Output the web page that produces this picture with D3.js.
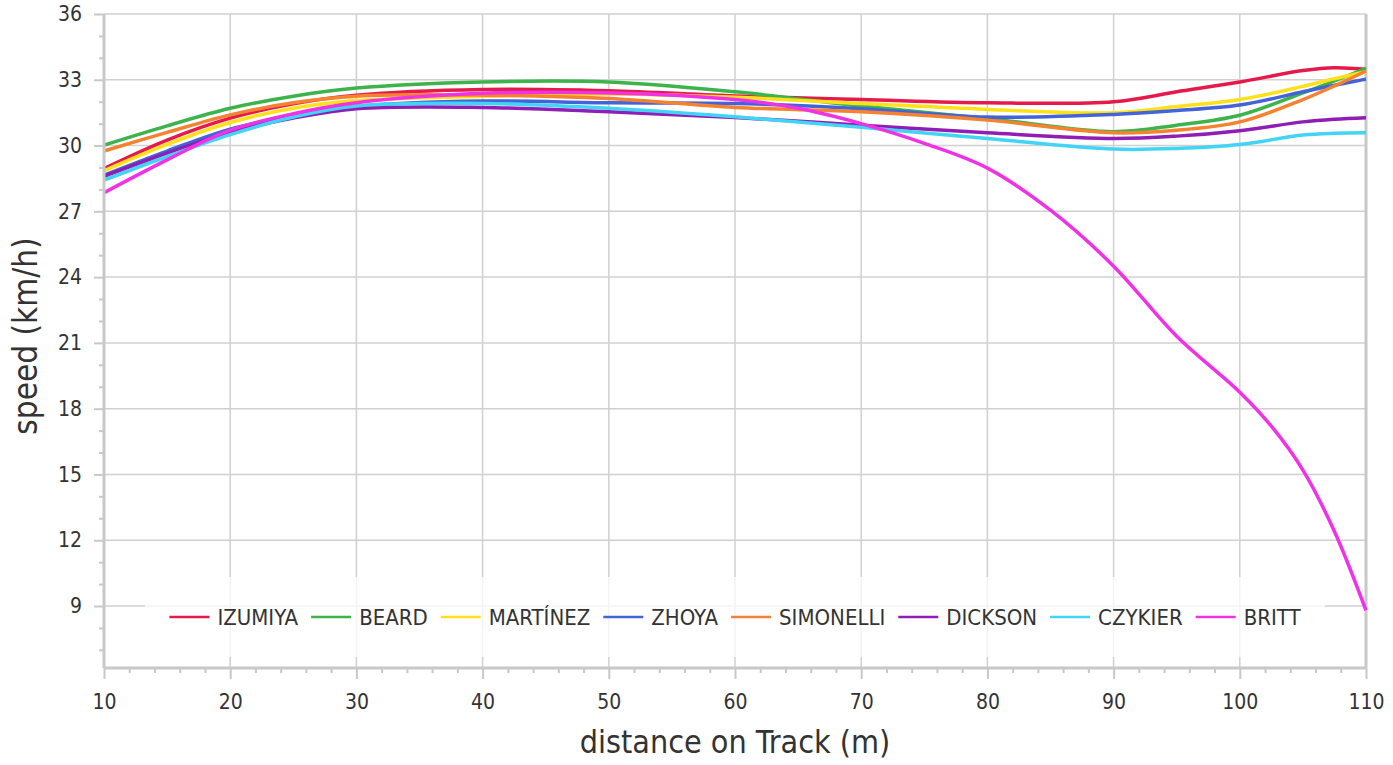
<!DOCTYPE html>
<html lang="en">
<head>
    <meta charset="UTF-8">
    <title>Speed on Track</title>
    <script src="https://d3js.org/d3.v7.min.js"></script>
    <style>
        body { margin: 0; background: #fff; font-family: "DejaVu Sans Condensed", "DejaVu Sans", sans-serif; }
        svg text { fill: #333; }
    </style>
</head>
<body>
    <script>
        // Data
        const distance = [10, 15, 20, 25, 30, 40, 50, 60, 70, 80, 90, 95, 100, 105, 107.5, 110];
        const izumiya   = [28.95, 30.25, 31.25, 31.9, 32.3, 32.56, 32.5, 32.26, 32.1, 31.95, 32.0, 32.45, 32.9, 33.42, 33.55, 33.47];
        const beard     = [30.02, 30.9, 31.7, 32.25, 32.62, 32.9, 32.9, 32.45, 31.8, 31.24, 30.63, 30.93, 31.38, 32.4, 32.95, 33.52];
        const martinez  = [28.85, 30.05, 31.05, 31.7, 32.05, 32.25, 32.35, 32.2, 31.92, 31.65, 31.5, 31.78, 32.1, 32.7, 33.05, 33.37];
        const zhoya     = [28.65, 29.75, 30.75, 31.35, 31.78, 32.03, 31.95, 31.92, 31.68, 31.3, 31.42, 31.6, 31.85, 32.45, 32.75, 33.03];
        const simonelli = [29.75, 30.6, 31.4, 31.95, 32.25, 32.3, 32.15, 31.74, 31.54, 31.16, 30.58, 30.7, 31.08, 32.1, 32.72, 33.4];
        const dickson   = [28.6, 29.65, 30.6, 31.25, 31.68, 31.74, 31.54, 31.28, 30.93, 30.58, 30.32, 30.43, 30.68, 31.08, 31.2, 31.27];
        const czykier   = [28.42, 29.5, 30.5, 31.3, 31.8, 31.92, 31.7, 31.31, 30.83, 30.32, 29.84, 29.87, 30.05, 30.48, 30.56, 30.58];
        const brittDistance = [10, 15, 20, 25, 30, 40, 50, 60, 65, 70, 75, 80, 85, 90, 95, 100, 102.5, 105, 107.5, 110];
        const britt     = [27.85, 29.35, 30.7, 31.45, 31.95, 32.38, 32.4, 32.1, 31.7, 31.0, 30.1, 28.97, 27.05, 24.5, 21.3, 18.75, 17.2, 15.2, 12.4, 8.8];

        const names  = ["IZUMIYA", "BEARD", "MARTÍNEZ", "ZHOYA", "SIMONELLI", "DICKSON", "CZYKIER", "BRITT"];
        const colors = ["#e6194b", "#3cb44b", "#ffe119", "#4363d8", "#f58231", "#911eb4", "#42d4f4", "#f032e6"];
        const speeds = [izumiya, beard, martinez, zhoya, simonelli, dickson, czykier, britt];
        const xValues = [distance, distance, distance, distance, distance, distance, distance, brittDistance];

        const yTicks = d3.range(9, 37, 3);
        const xTicks = d3.range(10, 111, 10);

        const W = 1393, H = 765;
        const plotLeft = 104, plotRight = 1366, plotTop = 14, plotBottom = 668;

        const svg = d3.select("body").append("svg")
            .attr("width", W)
            .attr("height", H);

        const x = d3.scaleLinear().domain([10, 110]).range([plotLeft, plotRight]);
        const y = d3.scaleLinear().domain([9, 36]).range([606, plotTop]);

        // Gridlines
        svg.append("g")
            .selectAll("line")
            .data(yTicks)
            .join("line")
            .attr("x1", plotLeft).attr("x2", plotRight)
            .attr("y1", d => y(d)).attr("y2", d => y(d))
            .attr("stroke", "#d0d0d0").attr("stroke-width", 1.5);

        svg.append("g")
            .selectAll("line")
            .data(xTicks.slice(1))
            .join("line")
            .attr("x1", d => x(d)).attr("x2", d => x(d))
            .attr("y1", plotTop).attr("y2", plotBottom)
            .attr("stroke", "#d0d0d0").attr("stroke-width", 1.5);

        // Right border
        svg.append("line")
            .attr("x1", plotRight).attr("x2", plotRight)
            .attr("y1", plotTop).attr("y2", plotBottom)
            .attr("stroke", "#c8c8c8").attr("stroke-width", 3);

        // Series lines
        const line = d3.line()
            .x(d => x(d[0]))
            .y(d => y(d[1]))
            .curve(d3.curveCatmullRom.alpha(0.5));

        names.forEach((name, i) => {
            const pts = xValues[i].map((d, j) => [d, speeds[i][j]]);
            svg.append("path")
                .datum(pts)
                .attr("fill", "none")
                .attr("stroke", colors[i])
                .attr("stroke-width", 3.5)
                .attr("d", line);
        });

        // Y axis
        const yAxis = svg.append("g")
            .attr("transform", `translate(${plotLeft},0)`)
            .call(d3.axisLeft(y).tickValues(yTicks).tickSize(10).tickPadding(12));
        svg.append("g")
            .attr("transform", `translate(${plotLeft},0)`)
            .call(d3.axisLeft(y).tickValues(d3.range(7, 36).filter(d => d % 3 !== 0)).tickSize(5).tickFormat(""))
            .call(g => g.select(".domain").remove());

        // X axis
        const xAxis = svg.append("g")
            .attr("transform", `translate(0,${plotBottom})`)
            .call(d3.axisBottom(x).tickValues(xTicks).tickSize(11).tickPadding(15));
        svg.append("g")
            .attr("transform", `translate(0,${plotBottom})`)
            .call(d3.axisBottom(x).tickValues(d3.range(12, 110, 2).filter(d => d % 10 !== 0)).tickSize(5).tickFormat(""))
            .call(g => g.select(".domain").remove());

        svg.selectAll(".tick line").attr("stroke", "#c8c8c8").attr("stroke-width", 2);
        svg.selectAll(".domain").attr("stroke", "#c8c8c8").attr("stroke-width", 3);
        svg.selectAll(".tick text")
            .style("font-family", "'DejaVu Sans Condensed', 'DejaVu Sans', sans-serif")
            .style("font-size", "21px")
            .attr("fill", "#333");
        yAxis.select(".domain").attr("d", `M0,${plotTop}V${plotBottom}`);
        xAxis.select(".domain").attr("d", `M${plotLeft},0H${plotRight}`);

        // Axis titles
        svg.append("text")
            .attr("x", (plotLeft + plotRight) / 2)
            .attr("y", 753)
            .attr("text-anchor", "middle")
            .style("font-size", "32px")
            .text("distance on Track (m)");

        svg.append("text")
            .attr("transform", `translate(37,${(plotTop + plotBottom) / 2 - 5}) rotate(-90)`)
            .attr("text-anchor", "middle")
            .style("font-size", "33px")
            .text("speed (km/h)");

        // Legend
        const legendBox = { x0: 145, x1: 1325, y0: 577, y1: 657 };
        svg.append("rect")
            .attr("x", legendBox.x0)
            .attr("y", legendBox.y0)
            .attr("width", legendBox.x1 - legendBox.x0)
            .attr("height", legendBox.y1 - legendBox.y0)
            .attr("fill", "#fff")
            .attr("fill-opacity", 0.75);

        const legend = svg.append("g");
        const cy = 617;
        const items = names.map((name, i) => {
            const g = legend.append("g");
            g.append("line")
                .attr("x1", 0).attr("x2", 40)
                .attr("y1", cy).attr("y2", cy)
                .attr("stroke", colors[i]).attr("stroke-width", 2.5);
            const t = g.append("text")
                .attr("x", 48)
                .attr("y", cy)
                .attr("dy", "0.36em")
                .style("font-size", "22px")
                .text(name);
            return { g, w: 48 + t.node().getComputedTextLength() };
        });
        const gap = 13;
        const total = d3.sum(items, d => d.w) + gap * (items.length - 1);
        let cx = (legendBox.x0 + legendBox.x1) / 2 - total / 2;
        items.forEach(d => {
            d.g.attr("transform", `translate(${cx},0)`);
            cx += d.w + gap;
        });
    </script>
</body>
</html>
